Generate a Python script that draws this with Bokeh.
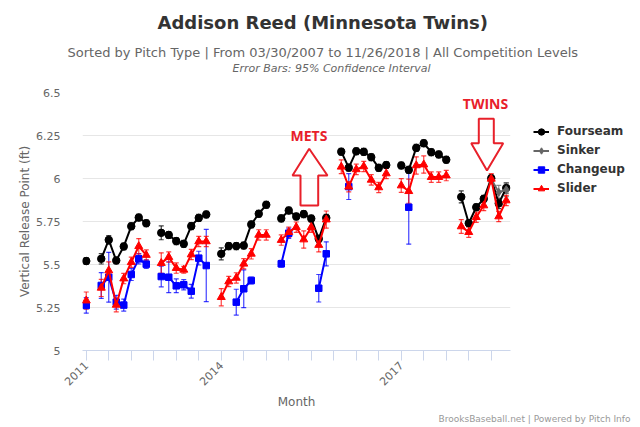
import math
from bokeh.plotting import figure
from bokeh.models import (ColumnDataSource, Range1d, FixedTicker, Whisker, TeeHead,
                          Legend, LegendItem, Label, PolyAnnotation, Title)
from bokeh.embed import file_html
from bokeh.resources import INLINE

N = None

# ---- categories (one per month; "" = break between seasons) ----
months = ["2011-09", "",
          "2012-04", "2012-05", "2012-06", "2012-07", "2012-08", "2012-09", "2012-10", "",
          "2013-04", "2013-05", "2013-06", "2013-07", "2013-08", "2013-09", "2013-10", "",
          "2014-04", "2014-05", "2014-06", "2014-07", "2014-08", "2014-09", "2014-10", "",
          "2015-04", "2015-05", "2015-06", "2015-07", "2015-08", "2015-09", "2015-10", "",
          "2016-04", "2016-05", "2016-06", "2016-07", "2016-08", "2016-09", "2016-10", "",
          "2017-04", "2017-05", "2017-06", "2017-07", "2017-08", "2017-09", "2017-10", "",
          "2018-04", "2018-05", "2018-06", "2018-07", "2018-08", "2018-09", "2018-10"]

year_tick_idx = [0, 18, 42]
year_labels = ["2011", "2014", "2017"]
y_ticks = [5, 5.25, 5.5, 5.75, 6, 6.25, 6.5]
y_tick_labels = ["5", "5.25", "5.5", "5.75", "6", "6.25", "6.5"]

# ---- series values (vertical release point, ft) ----
fourseam = [5.52, N,
            5.533, 5.643, 5.523, 5.605, 5.722, 5.773, 5.740, N,
            5.684, 5.672, 5.636, 5.620, 5.723, 5.771, 5.791, N,
            5.562, 5.607, 5.607, 5.610, 5.733, 5.795, 5.847, N,
            5.768, 5.814, 5.779, 5.793, 5.767, 5.649, 5.771, N,
            6.156, 6.063, 6.158, 6.155, 6.124, 6.062, 6.078, N,
            6.076, 6.050, 6.178, 6.205, 6.153, 6.140, 6.109, N,
            5.893, 5.740, 5.833, 5.882, 6.001, 5.855, 5.945]
fourseam_err = [0.02, N,
                0.03, 0.025, 0.02, 0.02, 0.02, 0.02, 0.02, N,
                0.04, 0.02, 0.02, 0.02, 0.02, 0.02, 0.02, N,
                0.035, 0.02, 0.02, 0.02, 0.02, 0.02, 0.02, N,
                0.02, 0.02, 0.02, 0.02, 0.02, 0.02, 0.02, N,
                0.02, 0.02, 0.02, 0.02, 0.02, 0.02, 0.02, N,
                0.02, 0.02, 0.02, 0.02, 0.02, 0.02, 0.02, N,
                0.035, 0.02, 0.02, 0.02, 0.02, 0.03, 0.03]

sinker = [N] * 54 + [5.995, 5.92, 5.935]
sinker_err = [N] * 54 + [0.02, 0.04, 0.04]

changeup = [5.262, N,
            5.378, 5.426, 5.281, 5.264, 5.442, 5.533, 5.502, N,
            5.430, 5.426, 5.376, 5.382, 5.345, 5.537, 5.494, N,
            N, N, 5.281, 5.359, 5.407, N, N, N,
            5.504, 5.682, N, N, N, 5.362, 5.562, N,
            N, 5.953, N, N, N, N, N, N,
            N, 5.833, N, N, N, N, N, N,
            N, N, N, N, N, N, N]
changeup_err = [0.045, N,
                0.075, 0.145, 0.04, 0.035, 0.035, 0.03, 0.025, N,
                0.06, 0.09, 0.04, 0.03, 0.04, 0.04, 0.21, N,
                N, N, 0.075, 0.11, 0.02, N, N, N,
                0.02, 0.03, N, N, N, 0.08, 0.07, N,
                N, 0.075, N, N, N, N, N, N,
                N, 0.215, N, N, N, N, N, N,
                N, N, N, N, N, N, N]

slider = [5.29, N,
          5.364, 5.465, 5.265, 5.418, 5.513, 5.606, 5.555, N,
          5.508, 5.543, 5.479, 5.469, 5.558, 5.634, 5.634, N,
          5.310, 5.401, 5.422, 5.504, 5.562, 5.672, 5.672, N,
          5.642, 5.688, 5.717, 5.645, 5.717, 5.613, 5.761, N,
          6.068, 5.952, 6.053, 6.070, 5.992, 5.948, 6.029, N,
          5.959, 5.926, 6.076, 6.081, 6.008, 6.008, 6.017, N,
          5.721, 5.688, 5.775, 5.843, 5.998, 5.779, 5.872]
slider_err = [0.05, N,
              0.05, 0.05, 0.04, 0.03, 0.03, 0.045, 0.03, N,
              0.06, 0.03, 0.03, 0.02, 0.03, 0.03, 0.03, N,
              0.05, 0.03, 0.03, 0.03, 0.03, 0.03, 0.03, N,
              0.03, 0.03, 0.03, 0.05, 0.03, 0.04, 0.05, N,
              0.04, 0.03, 0.03, 0.03, 0.03, 0.03, 0.03, N,
              0.04, 0.07, 0.05, 0.05, 0.03, 0.03, 0.03, N,
              0.04, 0.03, 0.03, 0.03, 0.03, 0.03, 0.03]

# ---- layout helpers (page pixel -> data coords), frame spans px 82..510 x 92..350 ----
FW, FH = 428, 258
X_START = -0.5
X_END = X_START + FW / 7.5
Y_START, Y_END = 5.0, 6.5
FONT = "DejaVu Sans"


def px_x(X):
    return X_START + (X - 82) * (X_END - X_START) / FW


def px_y(Y):
    return Y_START + (350 - Y) * (Y_END - Y_START) / FH


p = figure(frame_width=FW, frame_height=FH,
           x_range=Range1d(X_START, X_END), y_range=Range1d(Y_START, Y_END),
           output_backend="svg", toolbar_location=None,
           min_border_left=82, min_border_right=122, min_border_top=92, min_border_bottom=75,
           background_fill_color="white", border_fill_color="white", outline_line_color=None)
p.title = None

p.xgrid.visible = False
p.ygrid.grid_line_color = "#e6e6e6"
p.ygrid.grid_line_width = 1

# y axis
p.yaxis.ticker = FixedTicker(ticks=y_ticks)
p.yaxis.major_label_overrides = {t: l for t, l in zip(y_ticks, y_tick_labels)}
p.yaxis.axis_line_color = None
p.yaxis.major_tick_line_color = None
p.yaxis.minor_tick_line_color = None
p.yaxis.major_label_standoff = 16
p.yaxis.major_label_text_font = FONT
p.yaxis.major_label_text_font_size = "11px"
p.yaxis.major_label_text_color = "#666666"
p.yaxis.axis_label = "Vertical Release Point (ft)"
p.yaxis.axis_label_text_font = FONT
p.yaxis.axis_label_text_font_size = "12px"
p.yaxis.axis_label_text_font_style = "normal"
p.yaxis.axis_label_text_color = "#666666"
p.yaxis.axis_label_standoff = 1

# x axis
x_ticks = list(range(0, len(months), 3))
p.xaxis.ticker = FixedTicker(ticks=x_ticks)
overrides = {t: "" for t in x_ticks}
for t, l in zip(year_tick_idx, year_labels):
    overrides[t] = l
p.xaxis.major_label_overrides = overrides
p.xaxis.axis_line_color = "#ccd6eb"
p.xaxis.major_tick_line_color = "#ccd6eb"
p.xaxis.major_tick_out = 10
p.xaxis.major_tick_in = 0
p.xaxis.minor_tick_line_color = None
p.xaxis.major_label_orientation = math.pi / 4
p.xaxis.major_label_standoff = 3
p.xaxis.major_label_text_font = FONT
p.xaxis.major_label_text_font_size = "11px"
p.xaxis.major_label_text_color = "#666666"
p.xaxis.axis_label = "Month"
p.xaxis.axis_label_text_font = FONT
p.xaxis.axis_label_text_font_size = "12px"
p.xaxis.axis_label_text_font_style = "normal"
p.xaxis.axis_label_text_color = "#666666"
p.xaxis.axis_label_standoff = 3

series = [
    ("Fourseam", fourseam, fourseam_err, "#000000", "circle", 7.5),
    ("Sinker", sinker, sinker_err, "#666666", "diamond", 8),
    ("Changeup", changeup, changeup_err, "#0000ff", "square", 6.5),
    ("Slider", slider, slider_err, "#ff0000", "triangle", 8),
]

xs = list(range(len(months)))
items = []
for name, vals, errs, color, marker, size in series:
    line_y = [float("nan") if v is None else v for v in vals]
    lr = p.line(xs, line_y, line_color=color, line_width=2)
    px_, py_, up_, lo_ = [], [], [], []
    for i, (v, e) in enumerate(zip(vals, errs)):
        if v is None:
            continue
        px_.append(i)
        py_.append(v)
        up_.append(v + (e or 0))
        lo_.append(v - (e or 0))
    src = ColumnDataSource(dict(x=px_, y=py_, upper=up_, lower=lo_))
    w = Whisker(base="x", upper="upper", lower="lower", source=src, dimension="height",
                line_color=color, line_alpha=0.75, line_width=1.2,
                upper_head=TeeHead(size=5, line_color=color, line_alpha=0.75, line_width=1.2),
                lower_head=TeeHead(size=5, line_color=color, line_alpha=0.75, line_width=1.2))
    p.add_layout(w)
    sr = p.scatter("x", "y", source=src, marker=marker, size=size,
                   fill_color=color, line_color=color)
    items.append(LegendItem(label=name, renderers=[lr, sr]))

legend = Legend(items=items, location=(23, 152.5), orientation="vertical",
                glyph_width=16, glyph_height=19, label_height=19, label_standoff=8,
                spacing=0, padding=0, margin=0, border_line_alpha=0, background_fill_alpha=0,
                label_text_font=FONT, label_text_font_style="bold",
                label_text_font_size="12px", label_text_color="#333333")
p.add_layout(legend, "right")

# ---- team annotations ----
RED = "#e8202a"
mets_arrow = [(308.7, 148.3), (327, 175), (317.7, 175), (317.7, 205), (300, 205), (300, 175), (292, 175)]
twins_arrow = [(478.3, 118.3), (493.3, 118.3), (493.3, 142.7), (502.7, 142.7), (486.5, 170),
               (470.7, 142.7), (478.3, 142.7)]
for pts in (mets_arrow, twins_arrow):
    p.add_layout(PolyAnnotation(xs=[px_x(a) for a, b in pts], ys=[px_y(b) for a, b in pts],
                                fill_alpha=0, line_color=RED, line_alpha=1, line_width=2))

for txt, X, Y in [("METS", 308.5, 134.5), ("TWINS", 485, 103)]:
    p.add_layout(Label(x=px_x(X), y=px_y(Y), text=txt, text_align="center", text_baseline="middle",
                       text_font="Open Sans", text_font_size="14px", text_font_style="bold",
                       text_color=RED))

# ---- titles above the frame (first added = closest to the frame) ----
# (text, font size, style, colour, left offset from frame, standoff)
title_lines = [
    (" ", "1px", "normal", "#ffffff", 0, 14.5),
    ("Error Bars: 95% Confidence Interval", "11px", "italic", "#666666", 150, 0),
    ("Sorted by Pitch Type | From 03/30/2007 to 11/26/2018 | All Competition Levels",
     "13px", "normal", "#666666", -15, 0),
    (" ", "1px", "normal", "#ffffff", 0, 7),
    ("Addison Reed (Minnesota Twins)", "18px", "bold", "#333333", 75, 0),
]
for txt, fs, style, col, off, so in title_lines:
    p.add_layout(Title(text=txt, align="left", offset=off, standoff=so, text_font=FONT,
                       text_font_size=fs, text_font_style=style, text_color=col), "above")

p.add_layout(Title(text="BrooksBaseball.net | Powered by Pitch Info", align="right", offset=-120,
                   standoff=0, text_font=FONT, text_font_size="9px",
                   text_font_style="normal", text_color="#999999"), "below")

open("out.html", "w").write(file_html(p, INLINE))
